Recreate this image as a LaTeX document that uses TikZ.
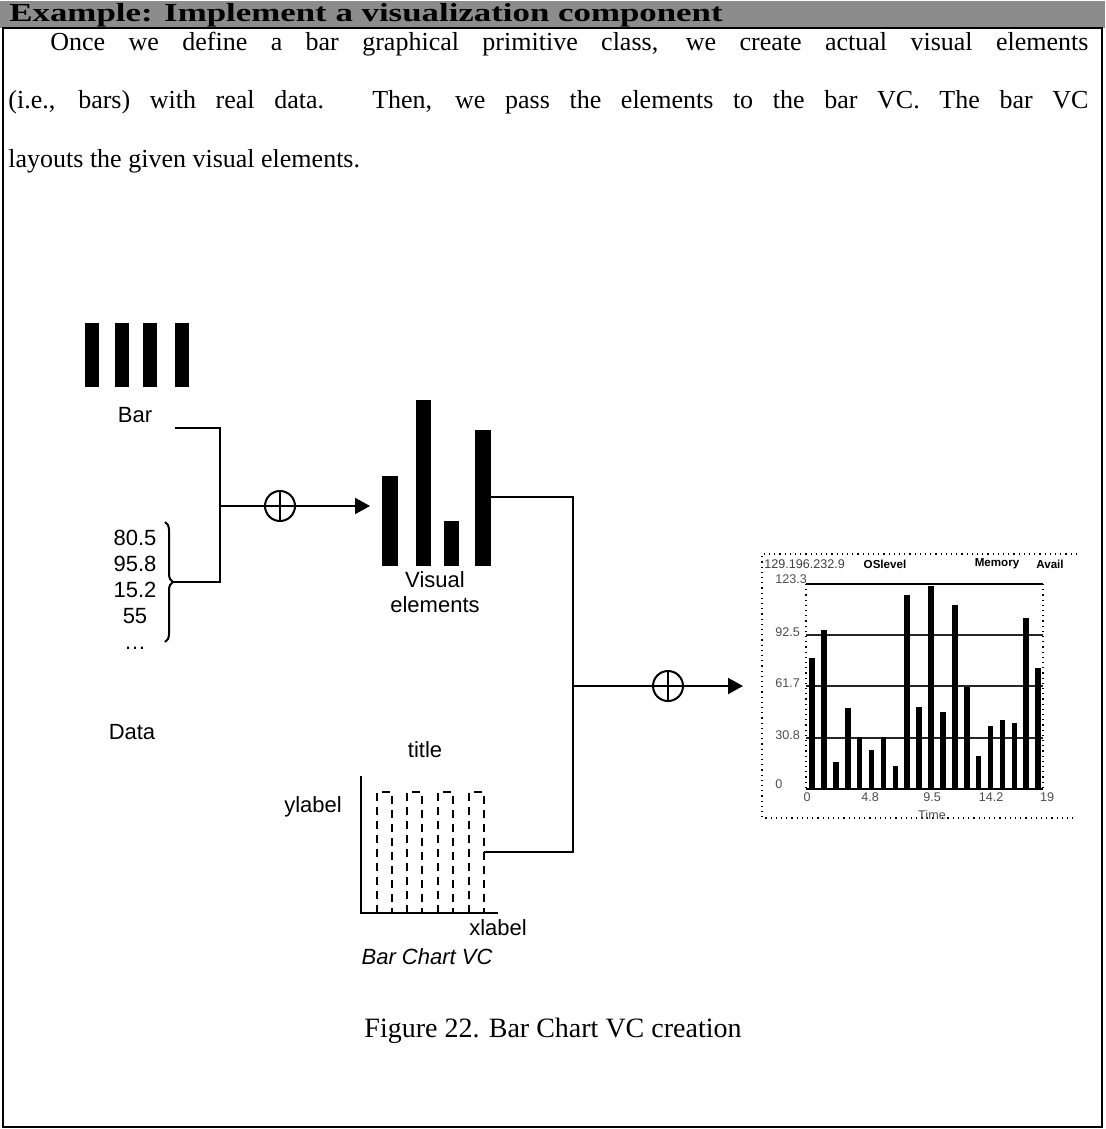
\documentclass[tikz,border=0pt]{standalone}
\usepackage{fontspec}
\setmainfont{Liberation Serif}
\setsansfont{Liberation Sans}
\usetikzlibrary{arrows.meta,decorations.pathreplacing}

\begin{document}
\begin{tikzpicture}[x=0.5pt,y=-0.5pt,
    lbl/.style={font=\sffamily\fontsize{11}{12.5}\selectfont,inner sep=0pt,align=center},
    link/.style={line width=1pt},
    tip/.style={link,-{Triangle[length=7.5pt,width=8pt]}},
    oplus/.style={circle,draw,line width=1pt,minimum size=15pt,inner sep=0pt,
        path picture={\draw[line width=1pt] (path picture bounding box.north) -- (path picture bounding box.south)
            (path picture bounding box.west) -- (path picture bounding box.east);}},
    shot/.style={font=\sffamily\fontsize{6.3}{7}\selectfont,inner sep=0pt},
    shotbold/.style={shot,font=\sffamily\bfseries\fontsize{5.8}{7}\selectfont},
    dotline/.style={line width=0.6pt,dotted}]
    \useasboundingbox (0,0) rectangle (1105,1129);
    % header band, frame
    \fill[black!45] (0,1) rectangle (1105,28);
    \node[anchor=base west,inner sep=0pt] (head) at (9,22)
        {\scalebox{1.34}[1]{\fontsize{13}{13}\selectfont\bfseries Example: Implement a visualization component}};
    \draw[line width=1pt] (3,28) rectangle (1102,1127);
    \node[anchor=base west,inner sep=0pt] (txta) at (50,51) {\fontsize{13}{15}\selectfont
        \makebox[519pt][s]{Once we define a bar graphical primitive class, we create actual visual elements}};
    \node[anchor=base west,inner sep=0pt] (txtb) at (8,109) {\fontsize{13}{15}\selectfont
        \makebox[540pt][s]{(i.e., bars) with real data. Then, we pass the elements to the bar VC. The bar VC}};
    \node[anchor=base west,inner sep=0pt] (txtc) at (8,167) {\fontsize{13}{15}\selectfont
        layouts the given visual elements.};

    % bar primitive and data
    \foreach \x in {85,115,143,175}
        \fill (\x,323) rectangle ++(14,64);
    \node[lbl] (barlbl) at (135,415) {Bar};
    \node[lbl,font=\sffamily\fontsize{11}{13}\selectfont] (datavals) at (135,590) {80.5\\95.8\\15.2\\55\\\dots};
    \node[lbl] (datalbl) at (132,732) {Data};
    \draw[link,decorate,decoration={brace,amplitude=4pt}] (165,522) -- (165,642);
    \coordinate (brtip) at (173,582);
    \coordinate (barout) at (175,428);
    \coordinate (join) at (220,506);
    \node[oplus] (plusA) at (280,506) {};
    \coordinate (vein) at (370,506);
    \draw[link] (barout) -| (join);
    \draw[link] (brtip) -- (join |- brtip) -- (join);
    \draw[link] (join) -- (plusA);
    \draw[tip] (plusA) -- (vein);

    % visual elements
    \fill (382,476) rectangle (398,566);
    \fill (416,400) rectangle (431,566);
    \fill (444,521) rectangle (459,566);
    \fill (475,430) rectangle (491,566);
    \node[lbl] (velbl) at (435,592) {Visual\\elements};
    \coordinate (veout) at (491,497);

    % bar chart VC
    \node[lbl] (titlelbl) at (425,750) {title};
    \node[lbl] (ylbl) at (313,807) {ylabel};
    \node[lbl] (xlbl) at (498,928) {xlabel};
    \node[lbl,font=\sffamily\itshape\fontsize{11}{12.5}\selectfont] (vclbl) at (427,957) {Bar Chart VC};
    \draw[link] (361,776) -- (361,913) -- (498,913);
    \foreach \x in {377,407,438,469}
        \draw[link,dash pattern=on 4pt off 3pt] (\x,913) -- (\x,792) -- (\x+15,792) -- (\x+15,913);
    \coordinate (vcout) at (484,852);
    \coordinate (mid) at (573,686);
    \node[oplus] (plusB) at (668,686) {};
    \coordinate (shotin) at (743,686);
    \draw[link] (veout) -| (mid);
    \draw[link] (vcout) -| (mid);
    \draw[link] (mid) -- (plusB);
    \draw[tip] (plusB) -- (shotin);

    % resulting bar chart
    \draw[dotline] (1077,554) -- (762,554) -- (762,818) -- (1077,818);
    \node[shot,anchor=west,text=black!75] (ip) at (764,564) {129.196.232.9};
    \node[shotbold] (oslbl) at (885,564) {OSlevel};
    \node[shotbold] (memlbl) at (997,564) {Memory};
    \node[shotbold] (availlbl) at (1050,564) {Avail};
    \draw[dotline] (806,584) -- (806,789);
    \draw[dotline] (1043,584) -- (1043,789);
    \foreach \y in {635,686,738}
        \draw[black!85,line width=0.6pt] (806,\y) -- (1043,\y);
    \draw[line width=0.7pt] (806,584) -- (1043,584);
    \draw[line width=0.8pt] (806,789) -- (1043,789);
    \foreach \v/\y in {123.3/579,92.5/632,61.7/683,30.8/735,0/784}
        \node[shot,anchor=west,text=black!70] at (775,\y) {\v};
    \foreach \v/\x in {0/807,4.8/870,9.5/932,14.2/991,19/1047}
        \node[shot,text=black!70] at (\x,797) {\v};
    \node[shot,text=black!70] (timelbl) at (932,815) {Time};
    \foreach \h [count=\i] in {658,630,762,708,737,750,737,766,595,707,586,712,605,687,756,726,720,723,618,668}
        \fill ({812+11.9*(\i-1)-2.8},789) rectangle ({812+11.9*(\i-1)+2.8},\h);

    \node[anchor=base,inner sep=0pt] (cap) at (553,1037) {\fontsize{14}{16}\selectfont Figure 22. Bar Chart VC creation};
\end{tikzpicture}
\end{document}
